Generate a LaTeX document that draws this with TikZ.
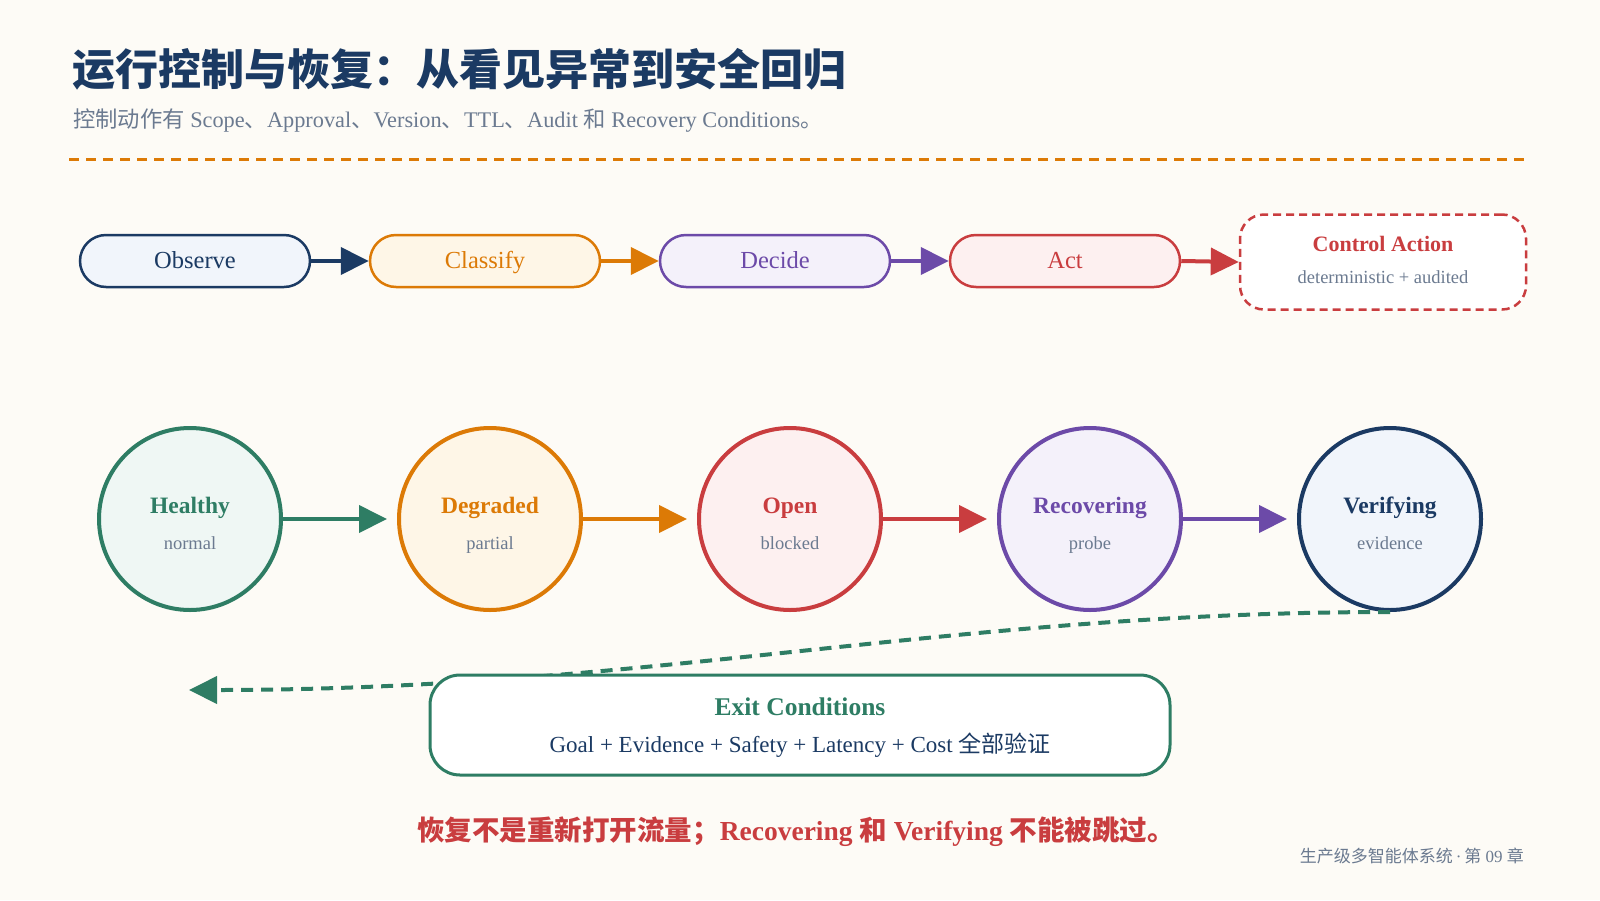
\documentclass[tikz,border=0pt]{standalone}
\usepackage{fontspec}
\setmainfont{Liberation Serif}
\newfontfamily\cjk{Noto Sans CJK SC}
\usetikzlibrary{arrows.meta}
\definecolor{bg}{HTML}{FDFBF6}
\definecolor{navy}{HTML}{1B3A63}
\definecolor{orng}{HTML}{DC7A06}
\definecolor{purp}{HTML}{6C4AA8}
\definecolor{redc}{HTML}{C93D3F}
\definecolor{grn}{HTML}{2E7D64}
\definecolor{grayt}{HTML}{6B7A90}
\definecolor{navyf}{HTML}{F1F5FB}
\definecolor{orngf}{HTML}{FEF6E7}
\definecolor{purpf}{HTML}{F4F1FA}
\definecolor{redf}{HTML}{FDF0F0}
\definecolor{grnf}{HTML}{EFF7F4}
\tikzset{
  pill/.style={draw=#1, text=#1, line width=2.5pt, rounded corners=26pt, minimum width=230pt, minimum height=52pt, inner sep=0pt, text height=18pt, text depth=3pt, font=\fontsize{24.5}{28}\selectfont},
  circ/.style={circle, draw=#1, line width=4pt, minimum size=182pt, inner sep=0pt},
  flow/.style={draw=#1, line width=4pt, -{Triangle[length=28pt,width=27pt]}},
  ctitle/.style={text=#1, anchor=base, inner sep=0pt, font=\bfseries\fontsize{23.5}{26}\selectfont},
  csub/.style={text=grayt, anchor=base, inner sep=0pt, font=\fontsize{18.5}{20}\selectfont},
}
\begin{document}
\begin{tikzpicture}[x=1pt,y=-1pt]
\useasboundingbox (0,0) rectangle (1600,900);
\fill[bg] (0,0) rectangle (1600,900);

% header
\node[anchor=west, text=navy, font=\cjk\bfseries\fontsize{43}{50}\selectfont, inner sep=0pt] (title) at (72,69) {运行控制与恢复：从看见异常到安全回归};
\node[anchor=west, text=grayt, font=\fontsize{22.3}{24}\selectfont, inner sep=0pt] (subt) at (73,121) {{\cjk 控制动作有} Scope{\cjk 、}Approval{\cjk 、}Version{\cjk 、}TTL{\cjk 、}Audit {\cjk 和} Recovery Conditions{\cjk 。}};
\coordinate (dl) at (69,159);
\coordinate (dr) at (1531,159);
\draw[orng, line width=3pt, dash pattern=on 10pt off 7pt] (dl) -- (dr);

% top row
\node[pill=navy, fill=navyf] (obs) at (195,261) {Observe};
\node[pill=orng, fill=orngf] (cls) at (485,261) {Classify};
\node[pill=purp, fill=purpf] (dec) at (775,261) {Decide};
\node[pill=redc, fill=redf] (act) at (1065,261) {Act};
\node[draw=redc, dash pattern=on 8pt off 5pt, line width=2.5pt, rounded corners=24pt, fill=white, minimum width=286pt, minimum height=95pt] (ca) at (1383,262) {};
\node[text=redc, anchor=base, inner sep=0pt, font=\bfseries\fontsize{22}{24}\selectfont] (cat) at (1383,251) {Control Action};
\node[text=grayt, anchor=base, inner sep=0pt, font=\fontsize{18.5}{20}\selectfont] (cas) at (1383,283) {deterministic + audited};

\draw[flow=navy] (obs.east) -- (cls.west);
\draw[flow=orng] (cls.east) -- (dec.west);
\draw[flow=purp] (dec.east) -- (act.west);
\draw[flow=redc] (act.east) -- (ca.west);

% states
\node[circ=grn, fill=grnf] (h) at (190,519) {};
\node[circ=orng, fill=orngf] (d) at (490,519) {};
\node[circ=redc, fill=redf] (o) at (790,519) {};
\node[circ=purp, fill=purpf] (r) at (1090,519) {};
\node[circ=navy, fill=navyf] (v) at (1390,519) {};

\node[ctitle=grn] (ht) at (190,513) {Healthy};
\node[csub] (hs) at (190,549) {normal};
\node[ctitle=orng] (dt) at (490,513) {Degraded};
\node[csub] (ds) at (490,549) {partial};
\node[ctitle=redc] (ot) at (790,513) {Open};
\node[csub] (os) at (790,549) {blocked};
\node[ctitle=purp] (rt) at (1090,513) {Recovering};
\node[csub] (rs) at (1090,549) {probe};
\node[ctitle=navy] (vt) at (1390,513) {Verifying};
\node[csub] (vs) at (1390,549) {evidence};

\draw[flow=grn, shorten >=10pt] (h.east) -- (d.west);
\draw[flow=orng, shorten >=10pt] (d.east) -- (o.west);
\draw[flow=redc, shorten >=10pt] (o.east) -- (r.west);
\draw[flow=purp, shorten >=10pt] (r.east) -- (v.west);

% return path
\coordinate (ret) at (189,690);
\draw[flow=grn, dash pattern=on 12pt off 8pt] (v.south) .. controls (950,612) and (650,690) .. (ret);

% exit box
\node[draw=grn, line width=3pt, rounded corners=30pt, fill=white, minimum width=740pt, minimum height=100pt] (exit) at (800,725) {};
\node[text=grn, anchor=base, inner sep=0pt, font=\bfseries\fontsize{25.5}{28}\selectfont] (et) at (800,715) {Exit Conditions};
\node[text=navy, anchor=base, inner sep=0pt, font=\fontsize{23}{26}\selectfont] (es) at (800,752) {Goal + Evidence + Safety + Latency + Cost {\cjk 全部验证}};

% footer
\node[text=redc, anchor=base, inner sep=0pt, font=\bfseries\fontsize{27.5}{30}\selectfont] (warn) at (796,840) {{\cjk 恢复不是重新打开流量；}Recovering {\cjk 和} Verifying {\cjk 不能被跳过。}};
\node[anchor=base east, text=grayt, font=\fontsize{17}{20}\selectfont, inner sep=0pt] (foot) at (1524,862) {{\cjk 生产级多智能体系统}\,·\,{\cjk 第} 09 {\cjk 章}};
\end{tikzpicture}
\end{document}
